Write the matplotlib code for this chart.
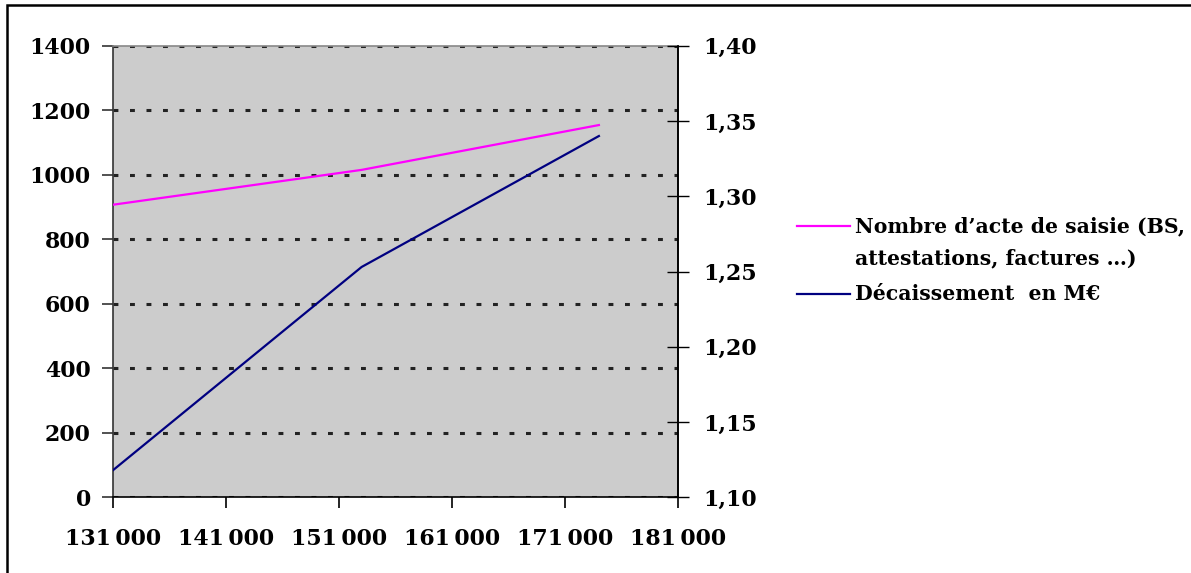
import matplotlib
matplotlib.use("Agg")
import matplotlib.pyplot as plt
from matplotlib.lines import Line2D
from matplotlib.patches import Rectangle
from matplotlib.ticker import FuncFormatter

# ---- data ----
x_vals = [131000, 153000, 174000]
actes = [907, 1015, 1154]
decaissement = [1.118, 1.253, 1.340]
label_actes = "Nombre d\u2019acte de saisie (BS,\nattestations, factures \u2026)"
label_dec = "D\u00e9caissement  en M\u20ac"
x_ticks = [131000, 141000, 151000, 161000, 171000, 181000]
left_ticks = [0, 200, 400, 600, 800, 1000, 1200, 1400]
right_ticks = [1.10, 1.15, 1.20, 1.25, 1.30, 1.35, 1.40]

W, H = 1191, 573
DPI = 100
plt.rcParams['font.family'] = ['DejaVu Serif']
plt.rcParams['font.weight'] = 'bold'
FS = 15.8

fig = plt.figure(figsize=(W / DPI, H / DPI), dpi=DPI)
L, R, T, B = 113, 678, 45.7, 497.3
ax = fig.add_axes([L / W, 1 - B / H, (R - L) / W, (B - T) / H])
ax.set_facecolor('#CCCCCC')
ax2 = ax.twinx()

ax.plot(x_vals, actes, color='#FF00FF', lw=1.6, zorder=3)
ax2.plot(x_vals, decaissement, color='#000080', lw=1.6, zorder=3)

ax.set_xlim(131000, 181000)
ax.set_ylim(0, 1400)
ax2.set_ylim(1.10, 1.40)

ax.set_xticks(x_ticks)
ax.set_yticks(left_ticks)
ax2.set_yticks(right_ticks)

ax.xaxis.set_major_formatter(FuncFormatter(lambda v, p: f"{int(v):,}".replace(",", "\u2009")))
ax.yaxis.set_major_formatter(FuncFormatter(lambda v, p: f"{int(v)}"))
ax2.yaxis.set_major_formatter(FuncFormatter(lambda v, p: f"{v:.2f}".replace(".", ",")))

ax.grid(axis='y', color='#222222', linestyle=(0, (1.6, 3.8)), lw=2.2)
ax.set_axisbelow(True)

for a in (ax, ax2):
    for s in a.spines.values():
        s.set_linewidth(1.2)
ax.spines['left'].set_color('#333333')
ax.spines['bottom'].set_color('#000000')
ax.spines['top'].set_color('#888888')
ax2.spines['right'].set_color('#000000')
ax2.spines['top'].set_visible(False)
ax2.spines['left'].set_visible(False)
ax2.spines['bottom'].set_visible(False)

ax.tick_params(axis='y', direction='out', length=8, width=1.2, color='#333333',
               pad=8, labelsize=FS)
ax.tick_params(axis='x', direction='out', length=8, width=1.2, color='#000000',
               pad=14, labelsize=FS)
ax2.tick_params(axis='y', direction='inout', length=16, width=1.0, color='#000000',
                pad=10, labelsize=FS)
for lab in ax.get_xticklabels() + ax.get_yticklabels() + ax2.get_yticklabels():
    lab.set_fontweight('bold')

# legend (Excel style: handle aligned with first text line)
def fy(py):
    return 1 - py / H

LFS = 14.7
fig.add_artist(Line2D([797 / W, 850 / W], [fy(226), fy(226)], color='#FF00FF', lw=1.6))
fig.add_artist(Line2D([797 / W, 850 / W], [fy(294), fy(294)], color='#000080', lw=1.6))
fig.text(855 / W, fy(226), "Nombre d\u2019acte de saisie (BS,", fontsize=LFS,
         fontweight='bold', va='center', ha='left')
fig.text(855 / W, fy(258), "attestations, factures \u2026)", fontsize=LFS,
         fontweight='bold', va='center', ha='left')
fig.text(855 / W, fy(294), label_dec, fontsize=LFS, fontweight='bold',
         va='center', ha='left')

# outer frame
fig.add_artist(Rectangle((7 / W, -0.1), 1.2, fy(5) + 0.1, transform=fig.transFigure,
                         fill=False, edgecolor='black', lw=1.8))

fig.savefig("out.png", dpi=DPI)
